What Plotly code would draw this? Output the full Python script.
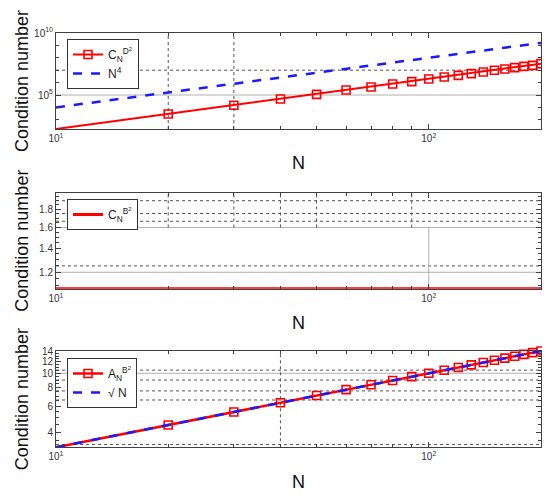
import plotly.graph_objects as go

# N values (10, 20, ..., 200)
n_vals = [10, 20, 30, 40, 50, 60, 70, 80, 90, 100,
          110, 120, 130, 140, 150, 160, 170, 180, 190, 200]

# top panel: condition number of C_N^{D^2} and reference N^4
cond_cd2 = [181, 2940, 1.47e4, 4.75e4, 1.13e5, 2.53e5, 4.42e5, 7.7e5, 1.19e6, 1.95e6,
            2.83e6, 3.86e6, 5.25e6, 7.16e6, 9.77e6, 1.25e7, 1.6e7, 2.05e7, 2.47e7, 3.36e7]
n_pow4 = [1.0e4, 1.6e5, 8.1e5, 2.56e6, 6.25e6, 1.296e7, 2.401e7, 4.096e7, 6.561e7, 1.0e8,
          1.464e8, 2.074e8, 2.856e8, 3.842e8, 5.063e8, 6.554e8, 8.352e8, 1.05e9, 1.303e9, 1.6e9]

# middle panel: condition number of C_N^{B^2}
cond_cb2 = [1.08] * 20

# bottom panel: condition number of A_N^{B^2} and sqrt(N)
cond_ab2 = [3.16, 4.47, 5.48, 6.32, 7.07, 7.75, 8.37, 8.94, 9.49, 10.0,
            10.49, 10.95, 11.40, 11.83, 12.25, 12.65, 13.04, 13.42, 13.78, 14.14]
sqrt_n = [3.16, 4.47, 5.48, 6.32, 7.07, 7.75, 8.37, 8.94, 9.49, 10.0,
          10.49, 10.95, 11.40, 11.83, 12.25, 12.65, 13.04, 13.42, 13.78, 14.14]

# the page body adds an 8px margin, so the figure is a bit smaller than the window
OFF = 8
W, H = 550 - 2 * OFF, 499 - 2 * OFF
FONT = "Liberation Sans, Arial, sans-serif"
AX = "#404040"


def px_x(x):
    # window pixel column -> paper x
    return (x - OFF) / W


def px_y(y):
    # window pixel row (from top) -> paper y
    return 1 - (y - OFF) / H


red_sq = dict(symbol="square-open", size=8, color="red", line=dict(width=1.6, color="red"))

fig = go.Figure()
fig.add_trace(go.Scatter(x=n_vals, y=cond_cd2, mode="lines+markers", name="C<sub>N</sub><sup>D<sup>2</sup></sup>",
                         line=dict(color="red", width=2), marker=red_sq, cliponaxis=False,
                         xaxis="x", yaxis="y", legend="legend"))
fig.add_trace(go.Scatter(x=n_vals, y=n_pow4, mode="lines", name="N<sup>4</sup>",
                         line=dict(color="#1a1aff", width=2.5, dash="dash"),
                         xaxis="x", yaxis="y", legend="legend"))
fig.add_trace(go.Scatter(x=n_vals, y=cond_cb2, mode="lines", name="C<sub>N</sub><sup>B<sup>2</sup></sup>",
                         line=dict(color="red", width=3), cliponaxis=False,
                         xaxis="x2", yaxis="y2", legend="legend2"))
fig.add_trace(go.Scatter(x=n_vals, y=cond_ab2, mode="lines+markers", name="A<sub>N</sub><sup>B<sup>2</sup></sup>",
                         line=dict(color="red", width=2.5), marker=red_sq, cliponaxis=False,
                         xaxis="x3", yaxis="y3", legend="legend3"))
fig.add_trace(go.Scatter(x=n_vals, y=sqrt_n, mode="lines", name="√ N",
                         line=dict(color="#1a1aff", width=2.5, dash="dash"), cliponaxis=False,
                         xaxis="x3", yaxis="y3", legend="legend3"))

xdom = [px_x(56), px_x(541)]
panels = [(33, 129), (192.7, 288.7), (351, 447.3)]

xticks = dict(tickvals=[10, 100], ticktext=["10<sup>1</sup>", "10<sup>2</sup>"])
xminor = dict(tickvals=[20, 30, 40, 50, 60, 70, 80, 90, 200], ticks="inside", ticklen=3, tickcolor=AX)

common = dict(showline=True, linecolor=AX, linewidth=1, mirror="allticks", ticks="inside",
              ticklen=5, tickcolor=AX, zeroline=False, showgrid=False, automargin=False,
              tickfont=dict(family=FONT, size=10, color="#333"))

layout_axes = {}
for i, (t, b) in enumerate(panels, start=1):
    sfx = "" if i == 1 else str(i)
    layout_axes["xaxis" + sfx] = dict(common, domain=xdom, anchor="y" + sfx, type="log",
                                      range=[1, 2.30103], minor=xminor, **xticks)

layout_axes["yaxis"] = dict(common, domain=[px_y(129), px_y(33)], anchor="x", type="log",
                            range=[2.258, 10], tickvals=[1e5, 1e10],
                            ticktext=["10<sup>5</sup>", "10<sup>10</sup>"],
                            minor=dict(tickvals=[1e3, 1e4, 1e6, 1e7, 1e8, 1e9], ticks="inside",
                                       ticklen=3, tickcolor=AX))
layout_axes["yaxis2"] = dict(common, domain=[px_y(288.7), px_y(192.7)], anchor="x2", type="log",
                             range=[0.0334, 0.30103], tickvals=[1.2, 1.4, 1.6, 1.8],
                             ticktext=["1.2", "1.4", "1.6", "1.8"],
                             minor=dict(tickvals=[1.1, 1.15, 1.25, 1.3, 1.35, 1.45, 1.5, 1.55, 1.65,
                                                  1.7, 1.75, 1.85, 1.9, 1.95],
                                        ticks="inside", ticklen=3, tickcolor=AX))
layout_axes["yaxis3"] = dict(common, domain=[px_y(447.3), px_y(351)], anchor="x3", type="log",
                             range=[0.5, 1.1505], tickvals=[4, 6, 8, 10, 12, 14],
                             ticktext=["4", "6", "8", "10", "12", "14"],
                             minor=dict(tickvals=[3.5, 4.5, 5, 5.5, 6.5, 7, 7.5, 8.5, 9, 9.5,
                                                  10.5, 11, 11.5, 12.5, 13, 13.5],
                                        ticks="inside", ticklen=3, tickcolor=AX))

# grid lines as they appear in the figure (solid major, dotted minor)
shapes = []


def hline(yv, yref, xref, dash, color):
    shapes.append(dict(type="line", xref=xref + " domain", yref=yref, x0=0, x1=1, y0=yv, y1=yv,
                       line=dict(color=color, width=1, dash=dash), layer="below"))


def vline(xv, xref, yref, y0, y1, dash, color):
    shapes.append(dict(type="line", xref=xref, yref=yref, x0=xv, x1=xv, y0=y0, y1=y1,
                       line=dict(color=color, width=1, dash=dash), layer="below"))


SOLID = "#b0b0b0"
DOT = "#555555"
hline(1e5, "y", "x", "solid", SOLID)
hline(1e7, "y", "x", "dot", DOT)
for xv in [20, 30]:
    vline(xv, "x", "y domain", 0, 1, "dot", DOT)

hline(1.2, "y2", "x2", "solid", SOLID)
hline(1.6, "y2", "x2", "solid", SOLID)
for yv in [1.25, 1.665, 1.75, 1.9]:
    hline(yv, "y2", "x2", "dot", DOT)
for xv in [20, 30, 40, 50, 90]:
    vline(xv, "x2", "y2", 1.6, 2.0, "dot", DOT)
vline(100, "x2", "y2", 1.08, 1.6, "solid", SOLID)

hline(10, "y3", "x3", "solid", SOLID)
for yv in [3.3, 6.6, 7.6, 9.0, 10.5]:
    hline(yv, "y3", "x3", "dot", DOT)
vline(40, "x3", "y3 domain", 0, 1, "dot", DOT)

annotations = []
for t, b in panels:
    annotations.append(dict(text="Condition number", x=px_x(22), y=px_y((t + b) / 2), xref="paper", yref="paper",
                            textangle=-90, showarrow=False, xanchor="center", yanchor="middle",
                            font=dict(family=FONT, size=18, color="#111")))
for yc in [163, 323, 482]:
    annotations.append(dict(text="N", x=px_x(298), y=px_y(yc), xref="paper", yref="paper", showarrow=False,
                            xanchor="center", yanchor="middle", font=dict(family=FONT, size=18, color="#111")))

leg = dict(xanchor="left", yanchor="top", bgcolor="white", bordercolor="#333", borderwidth=1,
           font=dict(family=FONT, size=12, color="#222"), tracegroupgap=0)

fig.update_layout(
    width=W, height=H,
    margin=dict(l=0, r=0, t=0, b=0),
    paper_bgcolor="white", plot_bgcolor="white",
    showlegend=True,
    legend=dict(leg, x=px_x(67), y=px_y(39)),
    legend2=dict(leg, x=px_x(67), y=px_y(199)),
    legend3=dict(leg, x=px_x(67), y=px_y(358)),
    shapes=shapes,
    annotations=annotations,
    **layout_axes,
)

fig.write_html("out.html")
